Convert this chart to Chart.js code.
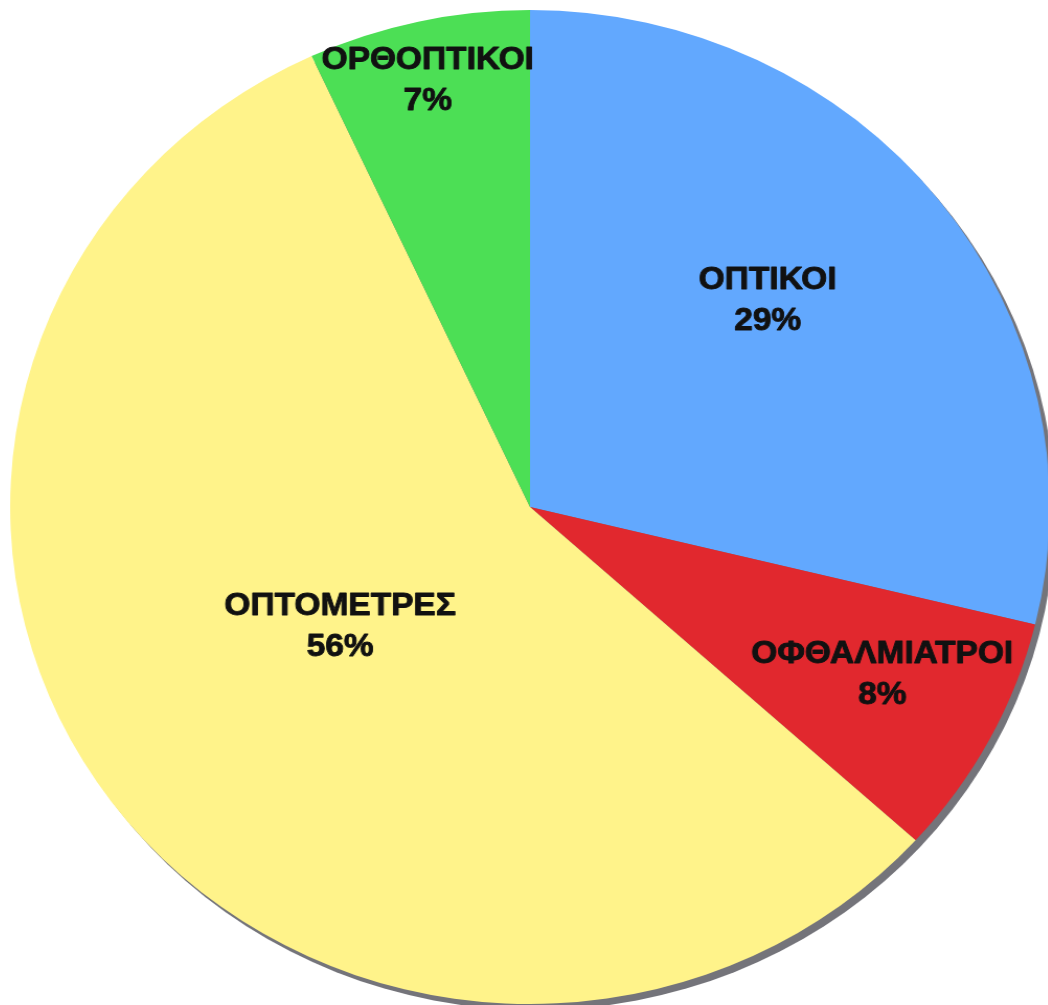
<!DOCTYPE html>
<html>
<head>
<meta charset="utf-8">
<script src="https://cdn.jsdelivr.net/npm/chart.js@4"></script>
<style>
html, body { margin: 0; padding: 0; background: #fff; overflow: hidden; width: 1048px; height: 1005px; }
#wrap { position: absolute; left: 7px; top: 0; width: 1000px; height: 1014px; transform: scaleX(1.046); transform-origin: 0 0; }
</style>
</head>
<body>
<div id="wrap"><canvas id="pie"></canvas></div>
<script>
// slices, clockwise from 12 o'clock
var names = ["ΟΠΤΙΚΟΙ", "ΟΦΘΑΛΜΙΑΤΡΟΙ", "ΟΠΤΟΜΕΤΡΕΣ", "ΟΡΘΟΠΤΙΚΟΙ"];
var shares = [28.8, 7.9, 56.4, 6.9];
var colors = ["#62A8FE", "#E1282E", "#FFF38A", "#4CDF55"];

// where each label sits inside its slice (share of sweep, share of radius)
var lblAng = [0.46, 0.45, 0.515, 0.48];
var lblRad = [0.618, 0.757, 0.437, 0.88];

var pieShadow = {
    id: "pieShadow",
    beforeDatasetsDraw: function (chart) {
        var a = chart.getDatasetMeta(0).data[0];
        var ctx = chart.ctx;
        ctx.save();
        ctx.fillStyle = "#74747a";
        ctx.beginPath();
        ctx.arc(a.x + 5, a.y + 6, a.outerRadius, 0, Math.PI * 2);
        ctx.fill();
        ctx.restore();
    }
};

var pieLabels = {
    id: "pieLabels",
    afterDatasetsDraw: function (chart) {
        var ctx = chart.ctx;
        var tot = shares.reduce(function (s, v) { return s + v; }, 0);
        ctx.save();
        ctx.fillStyle = "#111";
        ctx.strokeStyle = "#111";
        ctx.lineWidth = 0.9;
        ctx.lineJoin = "round";
        ctx.font = "bold 32px 'Liberation Sans', Arial, sans-serif";
        ctx.textAlign = "center";
        ctx.textBaseline = "middle";
        chart.getDatasetMeta(0).data.forEach(function (a, i) {
            var ang = a.startAngle + (a.endAngle - a.startAngle) * lblAng[i];
            var r = a.outerRadius * lblRad[i];
            var x = a.x + Math.cos(ang) * r;
            var y = a.y + Math.sin(ang) * r;
            var pct = Math.round(shares[i] / tot * 100) + "%";
            ctx.fillText(names[i], x, y - 20.5);
            ctx.strokeText(names[i], x, y - 20.5);
            ctx.fillText(pct, x, y + 20.5);
            ctx.strokeText(pct, x, y + 20.5);
        });
        ctx.restore();
    }
};

new Chart(document.getElementById("pie"), {
    type: "pie",
    data: {
        labels: names,
        datasets: [{
            data: shares,
            backgroundColor: colors,
            borderWidth: 0
        }]
    },
    options: {
        responsive: true,
        maintainAspectRatio: false,
        animation: false,
        layout: { padding: { top: 10, bottom: 10, left: 0, right: 0 } },
        plugins: {
            legend: { display: false },
            tooltip: { enabled: false }
        }
    },
    plugins: [pieShadow, pieLabels]
});
</script>
</body>
</html>
